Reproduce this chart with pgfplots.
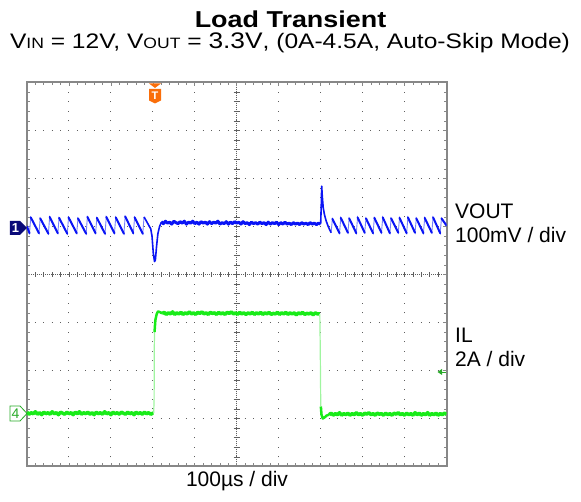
\documentclass[border=0pt]{standalone}
\usepackage{pgfplots}
\pgfplotsset{compat=1.18}
\usepackage{fontspec}
\setmainfont{Liberation Sans}
\newfontfamily\titlefont{Liberation Sans}[FakeStretch=1.17]
\definecolor{vblue}{RGB}{10,20,245}
\definecolor{vbluelt}{RGB}{120,130,250}
\definecolor{igreen}{RGB}{25,235,25}
\definecolor{igreenlt}{RGB}{160,245,160}
\definecolor{gridc}{RGB}{95,95,95}
\definecolor{framec}{RGB}{135,135,135}
\definecolor{navy1}{RGB}{10,10,120}
\definecolor{grn4}{RGB}{40,170,40}
\definecolor{orT}{RGB}{250,110,10}

\begin{document}
\begin{tikzpicture}
% centre cross (under the traces)
\draw[gridc, line width=0.8pt, dash pattern=on 1pt off 1pt] (0pt,192pt) -- (419.5pt,192pt);
\draw[gridc, line width=0.8pt, dash pattern=on 1pt off 1pt] (209.75pt,0pt) -- (209.75pt,384pt);
\foreach \i in {1,...,49} { \draw[gridc, line width=0.7pt] (\i*8.39pt,189.5pt) -- (\i*8.39pt,194.5pt); }
\foreach \j in {1,...,39} { \draw[gridc, line width=0.7pt] (206.5pt,\j*9.6pt) -- (213pt,\j*9.6pt); }

\begin{axis}[
  at={(0pt,0pt)}, anchor=south west,
  scale only axis, width=419.5pt, height=384pt,
  xmin=0, xmax=10, ymin=-4, ymax=4,
  axis line style={framec, line width=2pt},
  xtick={0,...,10}, ytick={-4,...,4},
  minor x tick num=4, minor y tick num=4,
  xticklabel=\empty, yticklabel=\empty,
  tick align=inside, major tick length=3.5pt, minor tick length=3pt,
  tick style={framec, line width=0.7pt},
  minor tick style={framec, line width=0.7pt},
  grid=major,
  x grid style={gridc, line width=1pt, dash pattern=on 1pt off 8.6pt, dash phase=0.5pt},
  y grid style={gridc, line width=1pt, dash pattern=on 1pt off 7.39pt, dash phase=0.5pt},
  unbounded coords=jump,
]
% ---------------- VOUT ----------------
% thin full sawtooth (fast rises)
\addplot[vbluelt, line width=0.9pt] coordinates {
(0.000,1.00) (0.060,0.86) (0.090,1.19) (0.285,0.86) (0.315,1.17)
(0.510,0.85) (0.540,1.20) (0.735,0.86) (0.765,1.18) (0.960,0.85)
(0.990,1.19) (1.185,0.86) (1.215,1.17) (1.410,0.85) (1.440,1.20)
(1.635,0.86) (1.665,1.18) (1.860,0.85) (1.890,1.20) (2.085,0.86)
(2.115,1.19) (2.310,0.85) (2.340,1.21) (2.535,0.86) (2.565,1.19)
(2.760,0.85) (2.790,1.20)
};
\addplot[vbluelt, line width=0.9pt] coordinates {
(7.250,0.87) (7.280,1.16)
(7.450,0.86) (7.480,1.18) (7.650,0.87) (7.680,1.17) (7.850,0.86)
(7.880,1.19) (8.050,0.87) (8.080,1.17) (8.250,0.86) (8.280,1.18)
(8.450,0.87) (8.480,1.19) (8.650,0.86) (8.680,1.17) (8.850,0.87)
(8.880,1.18) (9.050,0.86) (9.080,1.19) (9.250,0.87) (9.280,1.17)
(9.450,0.86) (9.480,1.18) (9.650,0.87) (9.680,1.19) (9.850,0.86)
(9.880,1.17) (10.000,1.02)
};
% thick slow declines
\addplot[vblue, line width=2pt, line cap=round] coordinates {
(0.000,1.00)(0.060,0.86)(0.07,nan)
(0.090,1.19)(0.285,0.86)(0.29,nan)
(0.315,1.17)(0.510,0.85)(0.52,nan)
(0.540,1.20)(0.735,0.86)(0.74,nan)
(0.765,1.18)(0.960,0.85)(0.97,nan)
(0.990,1.19)(1.185,0.86)(1.19,nan)
(1.215,1.17)(1.410,0.85)(1.42,nan)
(1.440,1.20)(1.635,0.86)(1.64,nan)
(1.665,1.18)(1.860,0.85)(1.87,nan)
(1.890,1.20)(2.085,0.86)(2.09,nan)
(2.115,1.19)(2.310,0.85)(2.32,nan)
(2.340,1.21)(2.535,0.86)(2.54,nan)
(2.565,1.19)(2.760,0.85)(2.77,nan)
(7.280,1.16)(7.450,0.86)(7.46,nan)
(7.480,1.18)(7.650,0.87)(7.66,nan)
(7.680,1.17)(7.850,0.86)(7.86,nan)
(7.880,1.19)(8.050,0.87)(8.06,nan)
(8.080,1.17)(8.250,0.86)(8.26,nan)
(8.280,1.18)(8.450,0.87)(8.46,nan)
(8.480,1.19)(8.650,0.86)(8.66,nan)
(8.680,1.17)(8.850,0.87)(8.86,nan)
(8.880,1.18)(9.050,0.86)(9.06,nan)
(9.080,1.19)(9.250,0.87)(9.26,nan)
(9.280,1.17)(9.450,0.86)(9.46,nan)
(9.480,1.18)(9.650,0.87)(9.66,nan)
(9.680,1.19)(9.850,0.86)(9.86,nan)
(9.880,1.17)(10.000,1.02)
};
% load step undershoot
\addplot[vblue, line width=1.6pt, line join=round] coordinates {
(2.790,1.20) (2.950,0.95) (2.980,0.80) (3.010,0.45)
(3.040,0.27) (3.060,0.30) (3.090,0.60) (3.120,0.85) (3.160,1.00) (3.200,1.08)
};
% flat noisy band during load
\addplot[vblue, line width=3pt, line join=round] coordinates {
(3.20,1.10) (3.25,1.06) (3.30,1.11) (3.35,1.07) (3.40,1.09) (3.45,1.05)
(3.50,1.11) (3.55,1.08) (3.60,1.06) (3.65,1.10) (3.70,1.07) (3.75,1.11)
(3.80,1.05) (3.85,1.09) (3.90,1.07) (3.95,1.11) (4.00,1.06) (4.05,1.09)
(4.10,1.05) (4.15,1.10) (4.20,1.07) (4.25,1.09) (4.30,1.05) (4.35,1.10)
(4.40,1.06) (4.45,1.09) (4.50,1.07) (4.55,1.11) (4.60,1.05) (4.65,1.08)
(4.70,1.06) (4.75,1.10) (4.80,1.05) (4.85,1.09) (4.90,1.06) (4.95,1.10)
(5.00,1.07) (5.05,1.09) (5.10,1.05) (5.15,1.10) (5.20,1.06) (5.25,1.08)
(5.30,1.04) (5.35,1.09) (5.40,1.06) (5.45,1.08) (5.50,1.05) (5.55,1.09)
(5.60,1.06) (5.65,1.08) (5.70,1.04) (5.75,1.09) (5.80,1.05) (5.85,1.08)
(5.90,1.06) (5.95,1.09) (6.00,1.04) (6.05,1.08) (6.10,1.05) (6.15,1.09)
(6.20,1.05) (6.25,1.07) (6.30,1.04) (6.35,1.08) (6.40,1.05) (6.45,1.07)
(6.50,1.04) (6.55,1.08) (6.60,1.05) (6.65,1.07) (6.70,1.04) (6.75,1.08)
(6.80,1.05) (6.85,1.07) (6.90,1.04) (6.95,1.07) (7.00,1.05)
};
% load release overshoot
\addplot[vblue, line width=1.6pt, line join=round] coordinates {
(7.000,1.05) (7.015,1.45) (7.025,1.84) (7.040,1.62) (7.060,1.40)
(7.090,1.25) (7.130,1.12) (7.180,1.00) (7.250,0.87)
};
% ---------------- IL ----------------
\addplot[igreen, line width=3.5pt, line join=round] coordinates {
(0.00,-2.87) (0.05,-2.91) (0.10,-2.88) (0.15,-2.90) (0.20,-2.86) (0.25,-2.91)
(0.30,-2.88) (0.35,-2.92) (0.40,-2.87) (0.45,-2.90) (0.50,-2.88) (0.55,-2.91)
(0.60,-2.86) (0.65,-2.90) (0.70,-2.88) (0.75,-2.92) (0.80,-2.87) (0.85,-2.89)
(0.90,-2.91) (0.95,-2.87) (1.00,-2.90) (1.05,-2.88) (1.10,-2.92) (1.15,-2.87)
(1.20,-2.90) (1.25,-2.86) (1.30,-2.91) (1.35,-2.88) (1.40,-2.90) (1.45,-2.87)
(1.50,-2.91) (1.55,-2.88) (1.60,-2.92) (1.65,-2.87) (1.70,-2.90) (1.75,-2.88)
(1.80,-2.91) (1.85,-2.86) (1.90,-2.90) (1.95,-2.88) (2.00,-2.92) (2.05,-2.87)
(2.10,-2.90) (2.15,-2.88) (2.20,-2.91) (2.25,-2.87) (2.30,-2.89) (2.35,-2.91)
(2.40,-2.87) (2.45,-2.90) (2.50,-2.88) (2.55,-2.92) (2.60,-2.87) (2.65,-2.90)
(2.70,-2.88) (2.75,-2.91) (2.80,-2.87) (2.85,-2.90) (2.90,-2.88) (2.95,-2.91)
(3.00,-2.89) (3.02,-2.89)
};
\addplot[igreenlt, line width=1.2pt] coordinates {
(3.020,-2.89) (3.030,-2.60) (3.035,-1.50) (3.040,-1.20)
};
\addplot[igreen, line width=2.5pt, line join=round] coordinates {
(3.040,-1.20) (3.060,-0.95) (3.090,-0.83) (3.120,-0.77) (3.160,-0.78) (3.220,-0.81)
};
\addplot[igreen, line width=3.5pt, line join=round] coordinates {
(3.22,-0.81) (3.27,-0.79) (3.32,-0.83) (3.37,-0.80) (3.42,-0.82) (3.47,-0.78)
(3.52,-0.83) (3.57,-0.80) (3.62,-0.82) (3.67,-0.79) (3.72,-0.83) (3.77,-0.80)
(3.82,-0.82) (3.87,-0.78) (3.92,-0.82) (3.97,-0.80) (4.02,-0.83) (4.07,-0.79)
(4.12,-0.81) (4.17,-0.78) (4.22,-0.82) (4.27,-0.80) (4.32,-0.83) (4.37,-0.79)
(4.42,-0.81) (4.47,-0.80) (4.52,-0.83) (4.57,-0.79) (4.62,-0.82) (4.67,-0.80)
(4.72,-0.83) (4.77,-0.79) (4.82,-0.81) (4.87,-0.78) (4.92,-0.82) (4.97,-0.80)
(5.02,-0.83) (5.07,-0.79) (5.12,-0.82) (5.17,-0.80) (5.22,-0.83) (5.27,-0.80)
(5.32,-0.82) (5.37,-0.79) (5.42,-0.83) (5.47,-0.80) (5.52,-0.82) (5.57,-0.79)
(5.62,-0.83) (5.67,-0.80) (5.72,-0.82) (5.77,-0.79) (5.82,-0.83) (5.87,-0.81)
(5.92,-0.82) (5.97,-0.79) (6.02,-0.83) (6.07,-0.80) (6.12,-0.82) (6.17,-0.79)
(6.22,-0.83) (6.27,-0.80) (6.32,-0.82) (6.37,-0.80) (6.42,-0.84) (6.47,-0.80)
(6.52,-0.82) (6.57,-0.79) (6.62,-0.83) (6.67,-0.81) (6.72,-0.82) (6.77,-0.80)
(6.82,-0.84) (6.87,-0.80) (6.92,-0.82) (6.98,-0.82)
};
\addplot[igreenlt, line width=1.2pt] coordinates {
(6.980,-0.82) (6.990,-1.50) (7.000,-2.50) (7.005,-2.75)
};
\addplot[igreen, line width=2.5pt, line join=round] coordinates {
(7.005,-2.75) (7.020,-2.92) (7.050,-3.00) (7.090,-2.98) (7.140,-2.94) (7.200,-2.92)
};
\addplot[igreen, line width=3.5pt, line join=round] coordinates {
(7.20,-2.92) (7.25,-2.89) (7.30,-2.93) (7.35,-2.90) (7.40,-2.92) (7.45,-2.88)
(7.50,-2.93) (7.55,-2.90) (7.60,-2.92) (7.65,-2.89) (7.70,-2.93) (7.75,-2.90)
(7.80,-2.92) (7.85,-2.88) (7.90,-2.92) (7.95,-2.90) (8.00,-2.93) (8.05,-2.89)
(8.10,-2.91) (8.15,-2.88) (8.20,-2.92) (8.25,-2.90) (8.30,-2.93) (8.35,-2.89)
(8.40,-2.91) (8.45,-2.90) (8.50,-2.93) (8.55,-2.89) (8.60,-2.92) (8.65,-2.90)
(8.70,-2.93) (8.75,-2.89) (8.80,-2.91) (8.85,-2.88) (8.90,-2.92) (8.95,-2.90)
(9.00,-2.93) (9.05,-2.89) (9.10,-2.92) (9.15,-2.90) (9.20,-2.93) (9.25,-2.88)
(9.30,-2.92) (9.35,-2.89) (9.40,-2.93) (9.45,-2.90) (9.50,-2.92) (9.55,-2.88)
(9.60,-2.93) (9.65,-2.90) (9.70,-2.92) (9.75,-2.89) (9.80,-2.93) (9.85,-2.90)
(9.90,-2.92) (9.95,-2.89) (10.00,-2.91)
};
\end{axis}

% channel / trigger markers
\fill[navy1] (-17pt,231.5pt) -- (-7pt,231.5pt) -- (0pt,238.5pt) -- (-7pt,245.5pt) -- (-17pt,245.5pt) -- cycle;
\node[white, font=\bfseries\fontsize{13}{13}\selectfont, inner sep=0] at (-11.5pt,238.5pt) {1};
\draw[grn4, line width=0.8pt, fill=white] (-17pt,45.5pt) -- (-7pt,45.5pt) -- (0pt,53pt) -- (-7pt,60.5pt) -- (-17pt,60.5pt) -- cycle;
\node[grn4, font=\fontsize{14}{14}\selectfont, inner sep=0] at (-11.5pt,53pt) {4};
\fill[orT] (122pt,383pt) -- (134pt,383pt) -- (128pt,378.5pt) -- cycle;
\fill[orT] (122pt,377.5pt) -- (134pt,377.5pt) -- (134pt,366pt) -- (128pt,363pt) -- (122pt,366pt) -- cycle;
\node[white, font=\bfseries\fontsize{11}{11}\selectfont, inner sep=0] at (128pt,370.5pt) {T};
\fill[grn4] (410.5pt,94.5pt) -- (415pt,97.5pt) -- (415pt,91.5pt) -- cycle;
\draw[grn4, line width=0.9pt] (414pt,94.5pt) -- (419pt,94.5pt);

% texts
\node[anchor=base west, inner sep=0, font=\fontsize{21}{25}\selectfont] at (428pt,247.5pt) {VOUT};
\node[anchor=base west, inner sep=0, font=\fontsize{21}{25}\selectfont] at (428pt,223.5pt) {100mV / div};
\node[anchor=base west, inner sep=0, font=\fontsize{21}{25}\selectfont] at (428pt,123.5pt) {IL};
\node[anchor=base west, inner sep=0, font=\fontsize{21}{25}\selectfont] at (428pt,99.5pt) {2A / div};
\node[anchor=base, inner sep=0, font=\fontsize{21}{25}\selectfont] at (210pt,-20.5pt) {100µs / div};
\node[anchor=base, inner sep=0, font=\titlefont\bfseries\fontsize{23}{27}\selectfont] at (263.5pt,439pt) {Load Transient};
\node[anchor=base, inner sep=0, font=\titlefont\fontsize{21}{25}\selectfont] at (263pt,418pt)
  {V{\fontsize{15}{15}\selectfont IN} = 12V, V{\fontsize{15}{15}\selectfont OUT} = {\fontsize{22.5}{25}\selectfont 3.3V}, (0A-4.5A, Auto-Skip Mode)};

\pgfresetboundingbox
\path[use as bounding box] (-27pt,-35.5pt) rectangle (554pt,466.5pt);
\end{tikzpicture}
\end{document}
